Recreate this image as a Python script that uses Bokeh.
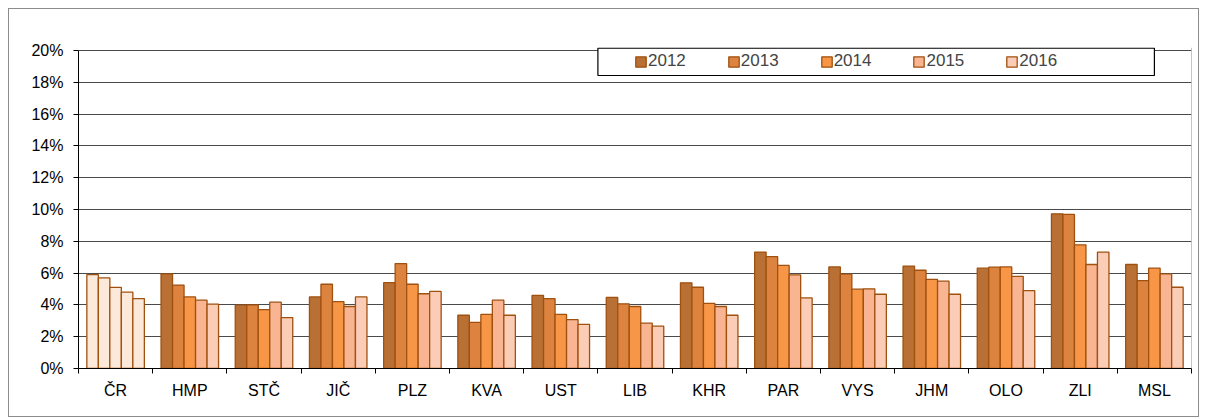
from bokeh.plotting import figure
from bokeh.models import (ColumnDataSource, Range1d, FixedTicker, PrintfTickFormatter,
                          Legend, LegendItem, BoxAnnotation, Span)
from bokeh.embed import file_html
from bokeh.resources import INLINE

categories = ["ČR", "HMP", "STČ", "JIČ", "PLZ", "KVA", "UST", "LIB", "KHR", "PAR",
              "VYS", "JHM", "OLO", "ZLI", "MSL"]
years = ["2012", "2013", "2014", "2015", "2016"]
v2012 = [5.9, 5.95, 3.98, 4.5, 5.4, 3.35, 4.6, 4.47, 5.39, 7.32, 6.39, 6.44, 6.31, 9.73, 6.54]
v2013 = [5.7, 5.25, 4.0, 5.3, 6.6, 2.9, 4.4, 4.07, 5.11, 7.04, 5.93, 6.18, 6.37, 9.69, 5.53]
v2014 = [5.1, 4.5, 3.7, 4.2, 5.3, 3.4, 3.4, 3.9, 4.09, 6.48, 4.99, 5.6, 6.39, 7.78, 6.31]
v2015 = [4.8, 4.3, 4.17, 3.9, 4.7, 4.3, 3.08, 2.85, 3.9, 5.89, 5.01, 5.49, 5.79, 6.54, 5.95]
v2016 = [4.4, 4.05, 3.2, 4.5, 4.85, 3.35, 2.77, 2.66, 3.35, 4.44, 4.67, 4.67, 4.9, 7.32, 5.11]
series = [v2012, v2013, v2014, v2015, v2016]
colors = ["#B97034", "#DC8340", "#F79646", "#F9B591", "#FBCDB7"]
cr_color = "#FDE9D9"
outline = "#A0500F"

p = figure(width=1191, height=409, x_range=Range1d(0, len(categories)), y_range=Range1d(0, 20.19),
           output_backend="svg", toolbar_location=None,
           min_border_left=69, min_border_right=9, min_border_top=38, min_border_bottom=50)
p.styles = {"border": "1px solid #8c8c8c", "margin-left": "8px", "margin-top": "8px"}
p.outline_line_color = None
p.background_fill_color = "white"
p.border_fill_color = "white"

bw = 0.155
items = []
for k, (yr, vals, col) in enumerate(zip(years, series, colors)):
    off = (k - 2) * bw
    xs = [i + 0.5 + off for i in range(len(categories))]
    fills = [cr_color if c == "ČR" else col for c in categories]
    src = ColumnDataSource(dict(x=xs, top=vals, fill=fills, cat=categories))
    r = p.vbar(x="x", top="top", bottom=0, width=bw, source=src, fill_color="fill",
               line_color=outline, line_width=1.3)
    items.append(LegendItem(label=yr, renderers=[r], index=1))

# right edge of plot area
p.add_layout(Span(location=len(categories), dimension="height", line_color="#8c8c8c", line_width=1))

# axes
p.xgrid.grid_line_color = None
p.ygrid.grid_line_color = "#4a4a4a"
p.ygrid.grid_line_width = 1
p.yaxis.bounds = (0, 20)
p.yaxis.ticker = FixedTicker(ticks=list(range(0, 21, 2)))
p.yaxis.formatter = PrintfTickFormatter(format="%d%%")
p.yaxis.major_label_text_font = "Liberation Sans"
p.yaxis.major_label_text_font_size = "16px"
p.yaxis.major_label_text_color = "black"
p.yaxis.axis_line_color = "black"
p.yaxis.major_tick_line_color = "black"
p.yaxis.major_tick_out = 5
p.yaxis.major_tick_in = 0
p.yaxis.minor_tick_line_color = None
p.yaxis.major_label_standoff = 10

p.xaxis.ticker = FixedTicker(ticks=[i + 0.5 for i in range(len(categories))],
                             minor_ticks=list(range(len(categories) + 1)))
p.xaxis.major_label_overrides = {i + 0.5: c for i, c in enumerate(categories)}
p.xaxis.major_label_text_font = "Liberation Sans"
p.xaxis.major_label_text_font_size = "16px"
p.xaxis.major_label_text_color = "black"
p.xaxis.axis_line_color = "black"
p.xaxis.major_tick_line_color = None
p.xaxis.minor_tick_line_color = "black"
p.xaxis.minor_tick_out = 5
p.xaxis.minor_tick_in = 0
p.xaxis.major_label_standoff = 7

# legend frame
box = BoxAnnotation(left=7.0, right=14.5, bottom=18.43, top=20.15,
                    fill_color="white", fill_alpha=1.0, line_color="black",
                    line_alpha=1.0, line_width=1.2)
p.add_layout(box)

legend = Legend(items=items, orientation="horizontal", location=(556, 297),
                glyph_width=13, glyph_height=13, label_standoff=1, spacing=41,
                label_text_font="Liberation Sans", label_text_font_size="17px",
                border_line_color=None, background_fill_alpha=0, padding=5, margin=0)
p.add_layout(legend, "center")

open("out.html", "w").write(file_html(p, INLINE))
